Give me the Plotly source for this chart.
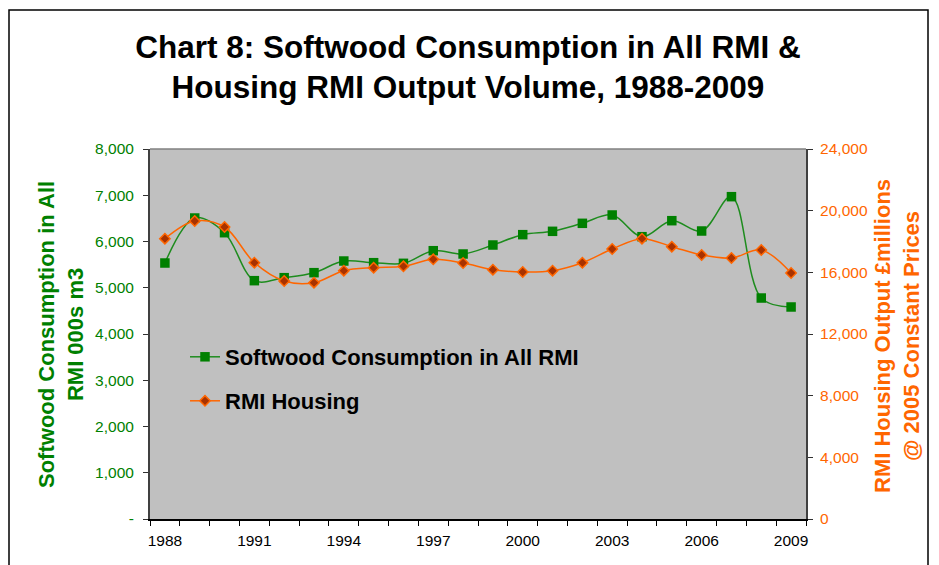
import plotly.graph_objects as go

years = list(range(1988, 2010))
softwood = [5535, 6508, 6190, 5153, 5218, 5326, 5578, 5542, 5528, 5801, 5730,
            5924, 6148, 6220, 6393, 6573, 6104, 6450, 6227, 6969, 4778, 4584]
housing = [18182, 19330, 18941, 16627, 15438, 15330, 16108, 16303, 16389, 16843, 16605,
           16173, 16022, 16108, 16627, 17514, 18182, 17665, 17124, 16930, 17449, 15957]
left_ticks = [0, 1000, 2000, 3000, 4000, 5000, 6000, 7000, 8000]
left_tick_text = ["-", "1,000", "2,000", "3,000", "4,000", "5,000", "6,000", "7,000", "8,000"]
right_ticks = [0, 4000, 8000, 12000, 16000, 20000, 24000]

GREEN = "#008000"
ORANGE = "#FF6600"
FONT = "Liberation Sans, Arial, sans-serif"

xcat = [str(y) for y in years]
xtext = [str(y) if (y - 1988) % 3 == 0 else "" for y in years]

fig = go.Figure()
fig.add_trace(go.Scatter(
    x=xcat, y=softwood, name="<b>Softwood Consumption in All RMI</b>",
    mode="lines+markers", line=dict(color="#1E8C1E", width=1.5, shape="spline", smoothing=1),
    marker=dict(symbol="square", size=9.5, color=GREEN, line=dict(width=0)),
    yaxis="y", legend="legend"))
fig.add_trace(go.Scatter(
    x=xcat, y=housing, name="<b>RMI Housing</b>",
    mode="lines+markers", line=dict(color=ORANGE, width=1.5, shape="spline", smoothing=1),
    marker=dict(symbol="diamond", size=8, color="#A83200", line=dict(color=ORANGE, width=1.5)),
    yaxis="y2", legend="legend2"))

W, H = 939, 565
OFF = 8  # page body margin offset in the screenshot
L, T = 150 - OFF, 149 - OFF
pw, ph = 656, 370
R, B = W - L - pw, H - T - ph

def px(xs):
    return (xs - 150) / pw

def py(ys):
    return (519 - ys) / ph

fig.update_layout(
    width=W, height=H,
    margin=dict(l=L, r=R, t=T, b=B, autoexpand=False),
    paper_bgcolor="white", plot_bgcolor="#C0C0C0",
    font=dict(family=FONT, size=15.5, color="black"),
    title=dict(text="<b>Chart 8: Softwood Consumption in All RMI &<br>Housing RMI Output Volume, 1988-2009</b>",
               x=(468 - OFF) / W, xref="container", xanchor="center",
               y=1 - 49.5 / H, yref="container", yanchor="middle",
               font=dict(family=FONT, size=31.5, color="black")),
    xaxis=dict(type="category", tickmode="array", tickvals=xcat, ticktext=xtext,
               tickson="boundaries", ticks="outside", ticklen=5, tickcolor="black",
               tickangle=0, automargin=False, ticklabelstandoff=7,
               showline=True, linecolor="black", linewidth=1.5, showgrid=False,
               zeroline=False, tickfont=dict(size=15.5, color="black"),
               range=[-0.5, 21.5]),
    yaxis=dict(range=[0, 8000], tickmode="array", tickvals=left_ticks, ticktext=left_tick_text,
               ticks="outside", ticklen=5, tickcolor="#303030", automargin=False,
               showline=True, linecolor="#404040", linewidth=2, showgrid=False, zeroline=False,
               tickfont=dict(size=15.5, color=GREEN), ticklabelstandoff=6),
    yaxis2=dict(range=[0, 24000], tickmode="array", tickvals=right_ticks, tickformat=",",
                overlaying="y", side="right", automargin=False,
                ticks="outside", ticklen=5, tickcolor="#303030",
                showline=True, linecolor="#404040", linewidth=2, showgrid=False, zeroline=False,
                tickfont=dict(size=15.5, color=ORANGE), ticklabelstandoff=4),
    legend=dict(x=px(185), y=py(357), xanchor="left", yanchor="middle",
                bgcolor="rgba(0,0,0,0)", font=dict(family=FONT, size=22, color="black"),
                itemwidth=30),
    legend2=dict(x=px(185), y=py(401), xanchor="left", yanchor="middle",
                 bgcolor="rgba(0,0,0,0)", font=dict(family=FONT, size=22, color="black"),
                 itemwidth=30),
    showlegend=True,
)

fig.add_annotation(text="<b>Softwood Consumption in All<br>RMI 000s m3</b>",
                   x=px(61), y=py(335), xref="paper", yref="paper",
                   textangle=-90, showarrow=False, xanchor="center", yanchor="middle",
                   font=dict(family=FONT, size=22, color=GREEN))
fig.add_annotation(text="<b>RMI Housing Output £millions<br>@ 2005 Constant Prices</b>",
                   x=px(897), y=py(336), xref="paper", yref="paper",
                   textangle=-90, showarrow=False, xanchor="center", yanchor="middle",
                   font=dict(family=FONT, size=22, color=ORANGE))

fig.add_shape(type="line", xref="paper", yref="paper", x0=0, x1=1, y0=1, y1=1,
              line=dict(color="#808080", width=1.5), layer="above")
fig.add_shape(type="rect", xref="paper", yref="paper",
              x0=px(9), x1=px(928), y0=py(10), y1=py(600),
              line=dict(color="black", width=1.5), layer="above")

fig.write_html("out.html")
